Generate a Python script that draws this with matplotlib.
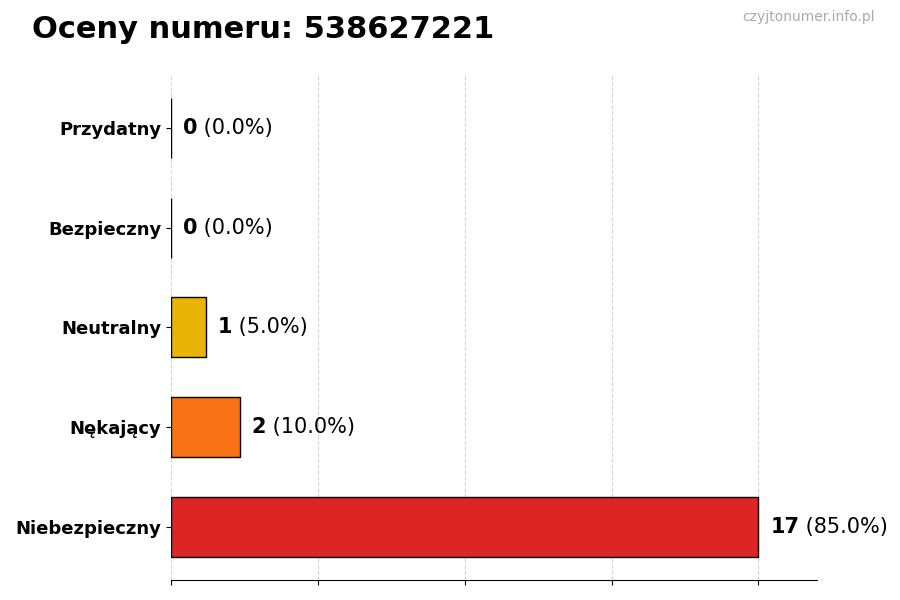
import matplotlib
matplotlib.use("Agg")
import matplotlib.pyplot as plt
import numpy as np

categories = ["Przydatny", "Bezpieczny", "Neutralny", "Nękający", "Niebezpieczny"]
counts = [0, 0, 1, 2, 17]
colors = ["#22C55E", "#3B82F6", "#EAB308", "#F97316", "#DC2626"]
phone = "538627221"

total = sum(counts)
max_val = max(counts)

fig = plt.figure(figsize=(9, 6), dpi=100)
ax = fig.add_axes([0.19, 0.0333, 0.718, 0.842])

y = np.arange(len(categories))[::-1]
ax.barh(y, counts, height=0.6, color=colors, edgecolor="black", linewidth=1)

ax.set_yticks(y)
ax.set_yticklabels(categories, fontsize=13, fontweight="bold")
ax.set_xlim(0, max_val * 1.1)
ax.set_xticks(np.linspace(0, max_val, 5))
ax.set_xticklabels([])
ax.grid(axis="x", linestyle="--", color="#cccccc", alpha=0.8)
ax.set_axisbelow(True)
for side in ["top", "right", "left"]:
    ax.spines[side].set_visible(False)

for yi, c in zip(y, counts):
    pct = c / total * 100 if total else 0
    t = ax.text(c + max_val * 0.02, yi, f"{c}", fontsize=15, fontweight="bold",
                va="center", ha="left")
    ax.annotate(f" ({pct:.1f}%)", xy=(1, 0.5), xycoords=t, fontsize=15,
                va="center", ha="left")

fig.text(32 / 900, 1 - 30 / 600, f"Oceny numeru: {phone}", fontsize=22,
         fontweight="bold", va="center", ha="left")
fig.text(875 / 900, 1 - 17 / 600, "czyjtonumer.info.pl", fontsize=10,
         color="#aaaaaa", va="center", ha="right")

fig.savefig("out.png", dpi=100)
